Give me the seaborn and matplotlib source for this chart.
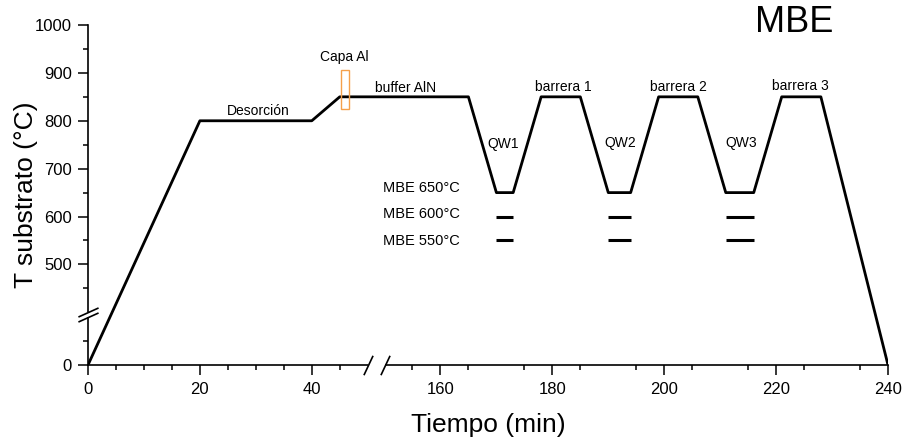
import numpy as np
import pandas as pd
import matplotlib
matplotlib.use("Agg")
import matplotlib.pyplot as plt
import seaborn as sns
from matplotlib.patches import Rectangle
from matplotlib.ticker import FixedLocator

# ---------------- data ----------------
time_min = [0, 20, 40, 45, 165, 170, 173, 178, 185, 190, 194, 199, 206, 211, 216, 221, 228, 240]
temp_c = [0, 800, 800, 850, 850, 650, 650, 850, 850, 650, 650, 850, 850, 650, 650, 850, 850, 0]

qw_start = [170, 190, 211]
qw_end = [173, 194, 216]
qw_alt_levels = [600, 550]

capa_al_time = [45.2, 46.6]
capa_al_temp = [824, 907]

x_major = [0, 20, 40, 160, 180, 200, 220, 240]
x_minor = [5, 10, 15, 25, 30, 35, 45] + list(range(155, 240, 10))
y_major = [0, 500, 600, 700, 800, 900, 1000]
y_minor = [50, 450, 550, 650, 750, 850, 950]

labels = ["Desorción", "Capa Al", "buffer AlN", "barrera 1", "barrera 2", "barrera 3",
          "QW1", "QW2", "QW3"]
label_x = [30.4, 45.8, 153.7, 181.9, 202.5, 224.3, 171.2, 192.1, 213.7]
label_y = [820, 933, 868, 870, 870, 872, 751, 753, 753]

mbe_labels = ["MBE 650°C", "MBE 600°C", "MBE 550°C"]
mbe_label_y = [660, 605, 549]
mbe_label_x = 163.5

# ---------------- broken-axis scales ----------------
XA, XB, XG = 50.0, 150.0, 3.0
YA, YB, YG = 100.0, 400.0, 10.0


def make_break(a, b, g):
    def fwd(v):
        v = np.asarray(v, dtype=float)
        return np.where(v <= a, v, np.where(v >= b, v - (b - a) + g, a + (v - a) * g / (b - a)))

    def inv(p):
        p = np.asarray(p, dtype=float)
        return np.where(p <= a, p, np.where(p >= a + g, p + (b - a) - g, a + (p - a) * (b - a) / g))
    return fwd, inv


sns.set_style("ticks")
plt.rcParams["font.family"] = ["Liberation Sans", "DejaVu Sans"]
plt.rcParams["axes.linewidth"] = 1.2
plt.rcParams["text.color"] = "black"
plt.rcParams["axes.labelcolor"] = "black"
plt.rcParams["xtick.color"] = "black"
plt.rcParams["ytick.color"] = "black"

fig = plt.figure(figsize=(9.06, 4.42), dpi=100)
ax = fig.add_axes([88 / 906, 1 - 365 / 442, 800 / 906, 340 / 442])
ax.set_xscale("function", functions=make_break(XA, XB, XG))
ax.set_yscale("function", functions=make_break(YA, YB, YG))

df = pd.DataFrame({"Tiempo": time_min, "T": temp_c})
sns.lineplot(data=df, x="Tiempo", y="T", color="black", lw=2.0, ax=ax,
             estimator=None, sort=False, legend=False)

for lvl in qw_alt_levels:
    ax.hlines([lvl] * len(qw_start), qw_start, qw_end, color="black", lw=2.2)

ax.add_patch(Rectangle((capa_al_time[0], capa_al_temp[0]),
                       capa_al_time[1] - capa_al_time[0],
                       capa_al_temp[1] - capa_al_temp[0],
                       fill=False, ec="#F5A04A", lw=1.0, zorder=4))

for t, x, y in zip(labels, label_x, label_y):
    ax.text(x, y, t, ha="center", va="center", fontsize=10, color="black")
for t, y in zip(mbe_labels, mbe_label_y):
    ax.text(mbe_label_x, y, t, ha="right", va="center", fontsize=10.5, color="black")

fig.text(794 / 906, 1 - 23 / 442, "MBE", ha="center", va="center", fontsize=26, color="black")

ax.set_xlim(0, 240)
ax.set_ylim(0, 1000)
ax.xaxis.set_major_locator(FixedLocator(x_major))
ax.xaxis.set_minor_locator(FixedLocator(x_minor))
ax.yaxis.set_major_locator(FixedLocator(y_major))
ax.yaxis.set_minor_locator(FixedLocator(y_minor))
ax.set_xticklabels([str(v) for v in x_major])
ax.set_yticklabels([str(v) for v in y_major])
ax.tick_params(which="major", length=7, width=1.1, labelsize=12, color="black", labelcolor="black")
ax.tick_params(axis="x", which="major", pad=5)
ax.tick_params(axis="y", which="major", pad=4.5)
ax.tick_params(which="minor", length=3.8, width=1.1, color="black")

for s in ["top", "right"]:
    ax.spines[s].set_visible(False)
for s in ["left", "bottom"]:
    ax.spines[s].set_color("black")

ax.set_xlabel("Tiempo (min)", fontsize=19, color="black")
ax.set_ylabel("T substrato (°C)", fontsize=19, color="black")
ax.xaxis.set_label_coords(0.5, -0.14)
ax.yaxis.set_label_coords(-0.062, 0.5)

# axis breaks: white gap on the spine + double slash
ax.add_patch(Rectangle((XA, -0.01), XB - XA, 0.02, transform=ax.get_xaxis_transform(),
                       fc="white", ec="none", clip_on=False, zorder=5))
ax.add_patch(Rectangle((-0.006, YA), 0.012, YB - YA, transform=ax.get_yaxis_transform(),
                       fc="white", ec="none", clip_on=False, zorder=5))
ax.plot([XA, XB], [0, 0], transform=ax.get_xaxis_transform(), ls="none",
        marker=[(-0.47, -1), (0.47, 1)], ms=14, mew=1.2, mec="black",
        clip_on=False, zorder=6)
ax.plot([0, 0], [YA, YB], transform=ax.get_yaxis_transform(), ls="none",
        marker=[(-1, -0.45), (1, 0.45)], ms=14.5, mew=1.2, mec="black",
        clip_on=False, zorder=6)

fig.savefig("out.png", dpi=100)
